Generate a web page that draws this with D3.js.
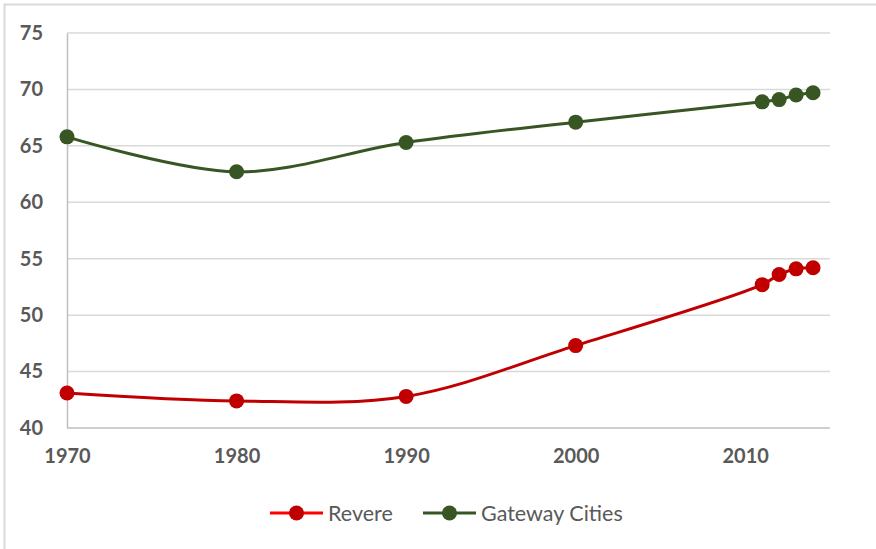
<!DOCTYPE html>
<html>
<head>
<meta charset="utf-8">
<script src="https://cdn.jsdelivr.net/npm/d3@7"></script>
<style>
  body { margin: 0; background: #fff; }
  svg { display: block; }
</style>
</head>
<body>
<svg id="chart"></svg>
<script>
var years = [1970, 1980, 1990, 2000, 2011, 2012, 2013, 2014];
var revere = [43.1, 42.4, 42.8, 47.3, 52.7, 53.6, 54.1, 54.2];
var gateway = [65.8, 62.7, 65.3, 67.1, 68.9, 69.1, 69.5, 69.7];
var xTicks = [1970, 1980, 1990, 2000, 2010];
var yTicks = [40, 45, 50, 55, 60, 65, 70, 75];

var series = [
  {name: "Revere", values: revere, color: "#c00000", legendLine: "#ff0000"},
  {name: "Gateway Cities", values: gateway, color: "#375623", legendLine: "#375623"}
];

var width = 876, height = 549;
var margin = {left: 67, right: 46, top: 33, bottom: 121};

var svg = d3.select("#chart").attr("width", width).attr("height", height);

// chart area frame (only top and left edges show in the picture)
svg.append("path")
  .attr("d", "M4.5," + height + "V4.5H" + width)
  .attr("fill", "none").attr("stroke", "#d9d9d9").attr("stroke-width", 2);

var x = d3.scaleLinear().domain([1970, 2015]).range([margin.left, width - margin.right]);
var y = d3.scaleLinear().domain([40, 75]).range([height - margin.bottom, margin.top]);

// gridlines
svg.append("g").selectAll("line").data(yTicks.slice(1)).join("line")
  .attr("x1", x(1970)).attr("x2", x(2015))
  .attr("y1", function(d) { return y(d); }).attr("y2", function(d) { return y(d); })
  .attr("stroke", "#d9d9d9").attr("stroke-width", 1.5);

// axes
var yAxis = d3.axisLeft(y).tickValues(yTicks).tickSize(0).tickPadding(24);
var gy = svg.append("g").attr("transform", "translate(" + margin.left + ",0)").call(yAxis);
gy.select(".domain").attr("stroke", "#bfbfbf").attr("stroke-width", 1.5);

var xAxis = d3.axisBottom(x).tickValues(xTicks).tickFormat(d3.format("d")).tickSize(0).tickPadding(21);
var gx = svg.append("g").attr("transform", "translate(0," + y(40) + ")").call(xAxis);
gx.select(".domain").attr("d", "M" + x(1970) + ",0H" + x(2015)).attr("stroke", "#bfbfbf").attr("stroke-width", 1.5);

svg.selectAll(".tick text")
  .attr("fill", "#595959")
  .style("font-family", "Lato, 'Open Sans', sans-serif")
  .style("font-weight", "bold")
  .style("font-size", "20px");

// lines and markers
var line = d3.line()
  .x(function(d, i) { return x(years[i]); })
  .y(function(d) { return y(d); })
  .curve(d3.curveCatmullRom.alpha(0.5));

series.forEach(function(s) {
  svg.append("path")
    .attr("d", line(s.values))
    .attr("fill", "none")
    .attr("stroke", s.color)
    .attr("stroke-width", 3);

  svg.append("g").selectAll("circle").data(s.values).join("circle")
    .attr("cx", function(d, i) { return x(years[i]); })
    .attr("cy", function(d) { return y(d); })
    .attr("r", 7.5)
    .attr("fill", s.color);
});

// legend
var legendX = [270, 423];
var legend = svg.append("g").attr("transform", "translate(0,513)");
series.forEach(function(s, i) {
  var g = legend.append("g").attr("transform", "translate(" + legendX[i] + ",0)");
  g.append("line").attr("x1", 0).attr("x2", 53).attr("stroke", s.legendLine).attr("stroke-width", 3);
  g.append("circle").attr("cx", 26.5).attr("r", 7.5).attr("fill", s.color);
  g.append("text")
    .attr("x", 58).attr("y", 7.5)
    .attr("fill", "#595959")
    .style("font-family", "Lato, 'Open Sans', sans-serif")
    .style("font-size", "21.5px")
    .text(s.name);
});
</script>
</body>
</html>
